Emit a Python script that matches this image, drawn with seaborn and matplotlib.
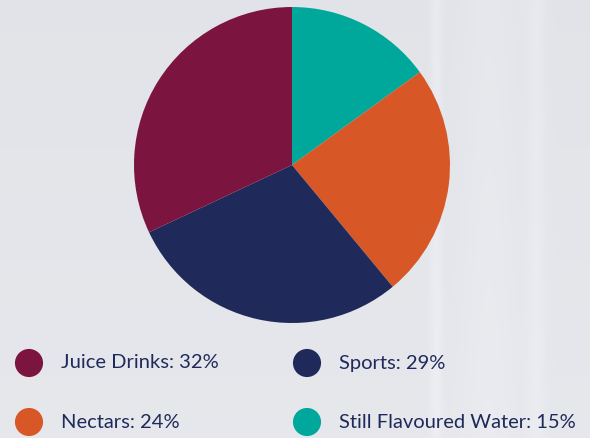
import numpy as np
import pandas as pd
import matplotlib
matplotlib.use("Agg")
import matplotlib.pyplot as plt
from matplotlib import font_manager
import seaborn as sns

categories = ["Still Flavoured Water", "Nectars", "Sports", "Juice Drinks"]
shares = [15, 24, 29, 32]
colors = ["#00A89C", "#D75726", "#1F2A5A", "#7B1540"]

legend_order = ["Juice Drinks", "Sports", "Nectars", "Still Flavoured Water"]

sns.set_theme(style="white")
names = {f.name for f in font_manager.fontManager.ttflist}
label_font = "Liberation Sans Narrow" if "Liberation Sans Narrow" in names else "Lato"
plt.rcParams["font.family"] = [label_font, "DejaVu Sans"]
label_size = 17 if label_font == "Liberation Sans Narrow" else 14.5

W, H = 590, 438
fig = plt.figure(figsize=(W / 100, H / 100), dpi=100)

# soft grey backdrop with faint vertical light streaks
bg = fig.add_axes([0, 0, 1, 1])
xs = np.linspace(0, 1, W)
ys = np.linspace(0, 1, H)
X, Y = np.meshgrid(xs, ys)
base = 0.893 + 0.015 * Y
streaks = (0.025 * np.exp(-((X - 0.74) / 0.01) ** 2)
           + 0.02 * np.exp(-((X - 0.91) / 0.015) ** 2)
           + 0.015 * np.exp(-((X - 0.83) / 0.05) ** 2))
lum = np.clip(base + streaks, 0, 1)
img = np.dstack([lum - 0.004, lum, lum + 0.018])
bg.imshow(np.clip(img, 0, 1), extent=[0, W, H, 0], aspect="auto")
bg.set_xlim(0, W)
bg.set_ylim(H, 0)
bg.axis("off")

# pie
cx, cy, r = 292, 165, 158
pie_ax = fig.add_axes([(cx - r) / W, (H - cy - r) / H, 2 * r / W, 2 * r / H])
pie_ax.pie(shares, colors=colors, startangle=90, counterclock=False,
           radius=1, wedgeprops=dict(linewidth=0))
pie_ax.set_xlim(-1, 1)
pie_ax.set_ylim(-1, 1)
pie_ax.set_aspect("equal")
pie_ax.axis("off")

# legend: coloured dots with labels
lg = fig.add_axes([0, 0, 1, 1])
lookup = dict(zip(categories, zip(shares, colors)))
dot_x = [29, 307, 29, 307]
dot_y = [363, 363, 422, 422]
df = pd.DataFrame({"x": dot_x, "y": dot_y, "cat": legend_order})
sns.scatterplot(data=df, x="x", y="y", hue="cat",
                palette={c: lookup[c][1] for c in legend_order},
                s=410, linewidth=0, legend=False, ax=lg)
lg.set_xlim(0, W)
lg.set_ylim(H, 0)
lg.axis("off")
for x, y, c in zip(dot_x, dot_y, legend_order):
    lg.text(x + 32, y, f"{c}: {lookup[c][0]}%", fontsize=label_size,
            color="#1F2A5A", va="center", ha="left")

fig.savefig("out.png", dpi=100)
